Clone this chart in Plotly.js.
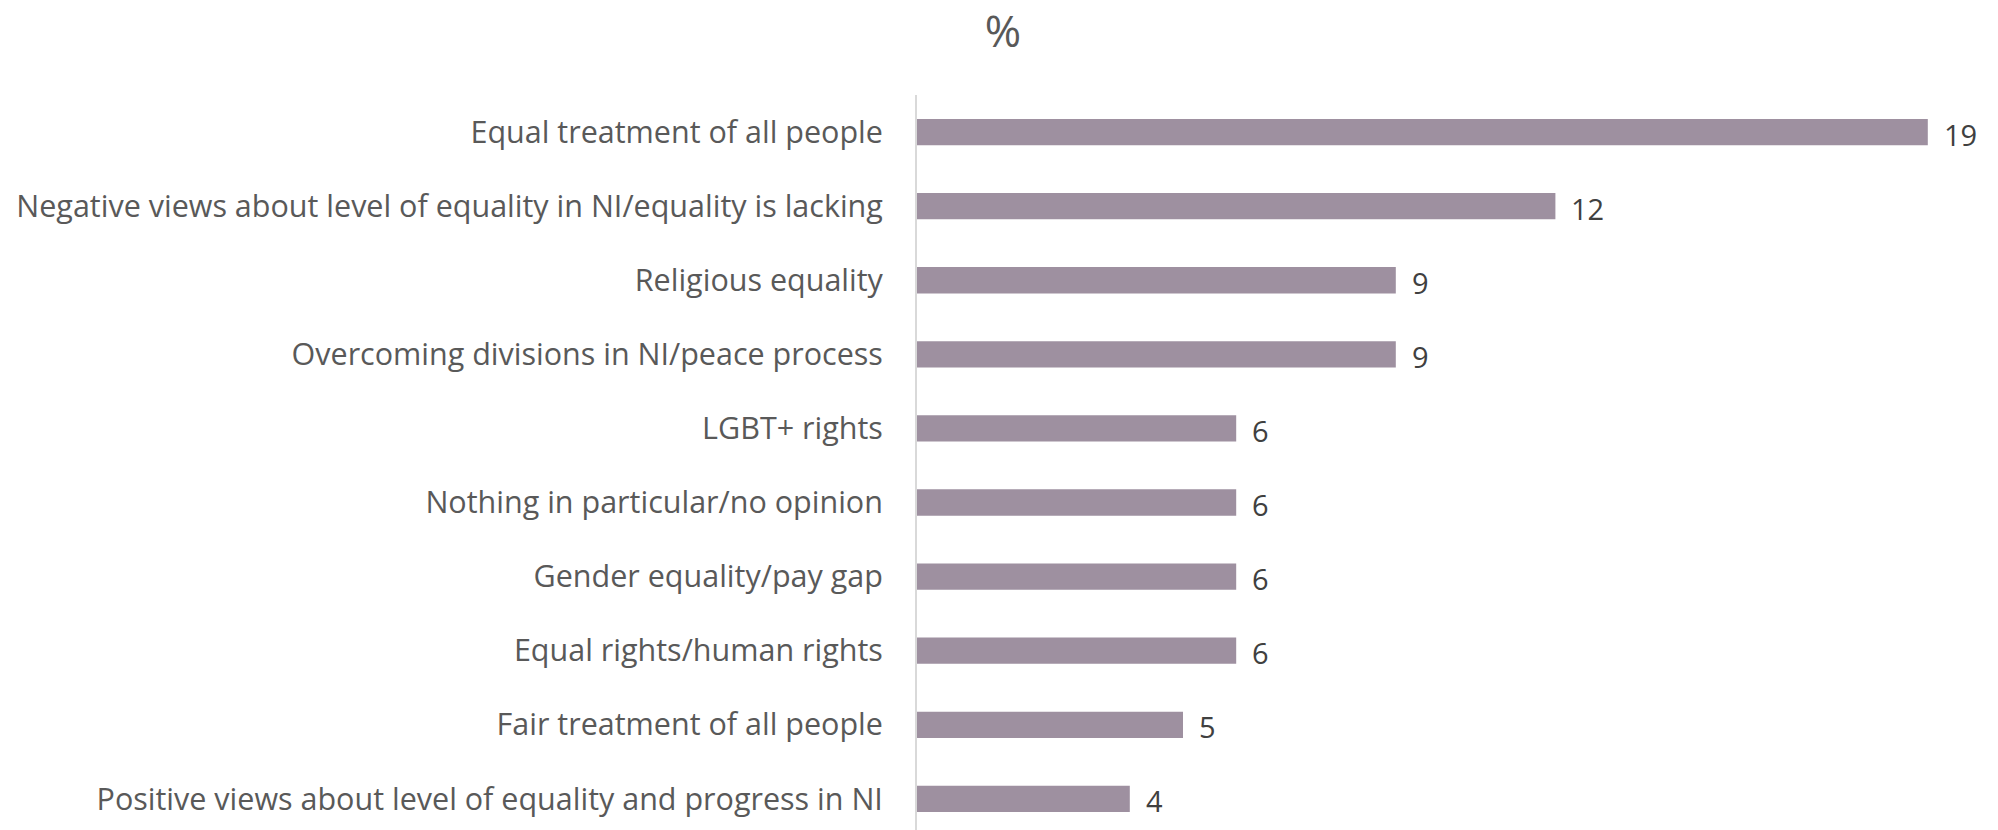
<!DOCTYPE html>
<html>
<head>
<meta charset="utf-8">
<script src="https://cdn.plot.ly/plotly-3.0.1.min.js"></script>
<style>html,body{margin:0;padding:0;background:#fff;}#chart{width:1998px;height:830px;}</style>
</head>
<body>
<div id="chart"></div>
<script>
const categories = [
  "Equal treatment of all people",
  "Negative views about level of equality in NI/equality is lacking",
  "Religious equality",
  "Overcoming divisions in NI/peace process",
  "LGBT+ rights",
  "Nothing in particular/no opinion",
  "Gender equality/pay gap",
  "Equal rights/human rights",
  "Fair treatment of all people",
  "Positive views about level of equality and progress in NI"
];
const values = [19, 12, 9, 9, 6, 6, 6, 6, 5, 4];
const titleText = "%";

const trace = {
  type: 'bar',
  orientation: 'h',
  y: categories,
  x: values,
  marker: {color: '#9E90A0'},
  hoverinfo: 'none'
};

const annotations = categories.map((c, i) => ({
  x: values[i], y: c, xref: 'x', yref: 'y',
  text: String(values[i]), showarrow: false,
  xanchor: 'left', yanchor: 'middle', xshift: 14, yshift: -2,
  font: {family: 'Open Sans, sans-serif', size: 29, color: '#404040'}
}));

const layout = {
  width: 1998, height: 830,
  margin: {l: 917, r: 17, t: 95, b: 0},
  paper_bgcolor: '#fff', plot_bgcolor: '#fff',
  bargap: 0.645,
  showlegend: false,
  title: {text: titleText, x: 0.502, xref: 'container', xanchor: 'center', y: 0.962, yanchor: 'middle',
          font: {family: 'Open Sans, sans-serif', size: 44, color: '#595959'}},
  xaxis: {range: [0, 20], visible: false, showgrid: false, zeroline: false, fixedrange: true},
  yaxis: {
    type: 'category', range: [9.42, -0.5], autorange: false,
    showline: true, linecolor: '#D9D9D9', linewidth: 2,
    ticks: 'outside', ticklen: 26, tickcolor: 'rgba(0,0,0,0)',
    showgrid: false, zeroline: false,
    tickfont: {family: 'Open Sans, sans-serif', size: 30.5, color: '#595959'}
  },
  annotations: annotations
};

Plotly.newPlot('chart', [trace], layout, {displayModeBar: false, staticPlot: true});
</script>
</body>
</html>
